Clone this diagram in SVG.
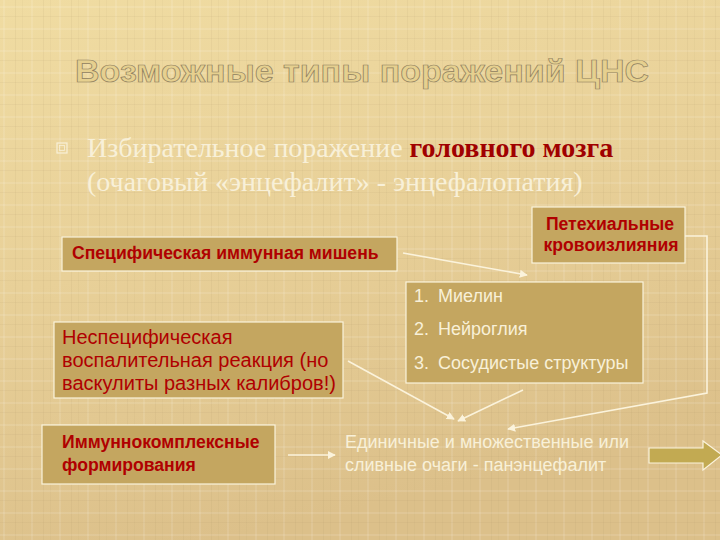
<svg xmlns="http://www.w3.org/2000/svg" width="720" height="540" viewBox="0 0 720 540">
<defs>
<linearGradient id="bg" x1="0" y1="0" x2="0.3" y2="1">
<stop offset="0" stop-color="#f0dca2"/>
<stop offset="0.5" stop-color="#e8d098"/>
<stop offset="1" stop-color="#dcc08a"/>
</linearGradient>
<pattern id="weave" width="28" height="22" patternUnits="userSpaceOnUse">
<rect x="3" y="0" width="2" height="22" fill="#ffffff" opacity="0.10"/>
<rect x="15" y="0" width="1" height="22" fill="#9a8258" opacity="0.09"/>
<rect x="22" y="0" width="1" height="22" fill="#9a8258" opacity="0.06"/>
<rect x="0" y="6" width="28" height="2" fill="#ffffff" opacity="0.10"/>
<rect x="0" y="16" width="28" height="1" fill="#9a8258" opacity="0.08"/>
</pattern>
<marker id="ah" viewBox="0 0 10 10" refX="9" refY="5" markerWidth="5" markerHeight="5" orient="auto">
<path d="M0,0 L10,5 L0,10 z" fill="#fbf3dc"/>
</marker>
<style>
.box{fill:#c4a660;stroke:#fbf3dc;stroke-width:1.2}
.red{font-family:"Liberation Sans",Arial,sans-serif;fill:#b00000}
.bold{font-weight:bold}
.wt{font-family:"Liberation Sans",Arial,sans-serif;fill:#f8f0d8}
.con{fill:none;stroke:#fbf3dc;stroke-width:1.6}
.ser{font-family:"Liberation Serif","Times New Roman",serif;font-size:28px;fill:#f8f0d8}
</style>
</defs>
<rect width="720" height="540" fill="url(#bg)"/>
<rect width="720" height="540" fill="url(#weave)"/>

<g id="title">
<text x="362" y="82" text-anchor="middle" font-family="'Liberation Sans',Arial,sans-serif" font-size="31" font-weight="bold" fill="#e6d08f" stroke="#8f8060" stroke-width="0.7" textLength="574" lengthAdjust="spacingAndGlyphs">Возможные типы поражений ЦНС</text>
</g>

<g id="bullet">
<rect x="57" y="143" width="10" height="10" fill="none" stroke="#f8f0d8" stroke-width="1.2"/>
<rect x="59.5" y="145.5" width="5" height="5" fill="none" stroke="#f8f0d8" stroke-width="0.8"/>
<text class="ser" x="87" y="157">Избирательное поражение <tspan font-weight="bold" fill="#a00000">головного мозга</tspan></text>
<text class="ser" x="87" y="191">(очаговый «энцефалит» - энцефалопатия)</text>
</g>

<g id="connectors">
<line class="con" x1="403" y1="253" x2="527" y2="275" marker-end="url(#ah)"/>
<polyline class="con" points="685,236 707,236 707,393 508,429" marker-end="url(#ah)"/>
<line class="con" x1="348" y1="361" x2="454" y2="419" marker-end="url(#ah)"/>
<line class="con" x1="523" y1="390" x2="458" y2="421" marker-end="url(#ah)"/>
<line class="con" x1="288" y1="455" x2="335" y2="455" marker-end="url(#ah)"/>
</g>

<g id="n-specific">
<rect class="box" x="62" y="237" width="335" height="34"/>
<text class="red bold" x="72" y="259" font-size="17.6">Специфическая иммунная мишень</text>
</g>

<g id="n-petechial">
<rect class="box" x="532" y="207" width="153" height="56"/>
<text class="red bold" x="610" y="230" font-size="17.6" text-anchor="middle">Петехиальные</text>
<text class="red bold" x="611" y="251" font-size="17.6" text-anchor="middle">кровоизлияния</text>
</g>

<g id="n-targets">
<rect class="box" x="406" y="282" width="237" height="101"/>
<text class="wt" x="414" y="302" font-size="18">1.</text>
<text class="wt" x="438" y="302" font-size="18">Миелин</text>
<text class="wt" x="414" y="335" font-size="18">2.</text>
<text class="wt" x="438" y="335" font-size="18">Нейроглия</text>
<text class="wt" x="414" y="369" font-size="18">3.</text>
<text class="wt" x="438" y="369" font-size="18">Сосудистые структуры</text>
</g>

<g id="n-nonspecific">
<rect class="box" x="54" y="322" width="289" height="76"/>
<text class="red" x="62" y="344" font-size="20">Неспецифическая</text>
<text class="red" x="62" y="367" font-size="20">воспалительная реакция (но</text>
<text class="red" x="62" y="390" font-size="20">васкулиты разных калибров!)</text>
</g>

<g id="n-immune">
<rect class="box" x="42" y="425" width="233" height="59"/>
<text class="red bold" x="62" y="448" font-size="17.6">Иммуннокомплексные</text>
<text class="red bold" x="62" y="471" font-size="17.6">формирования</text>
</g>

<g id="n-result">
<text class="wt" x="345" y="448" font-size="18">Единичные и множественные или</text>
<text class="wt" x="345" y="471" font-size="18">сливные очаги - панэнцефалит</text>
</g>

<g id="n-arrow">
<path d="M649,448 L703,448 L703,441 L722,455 L703,470 L703,463 L649,463 Z" fill="#c2aa52" stroke="#fbf3dc" stroke-width="1.2"/>
</g>
</svg>
